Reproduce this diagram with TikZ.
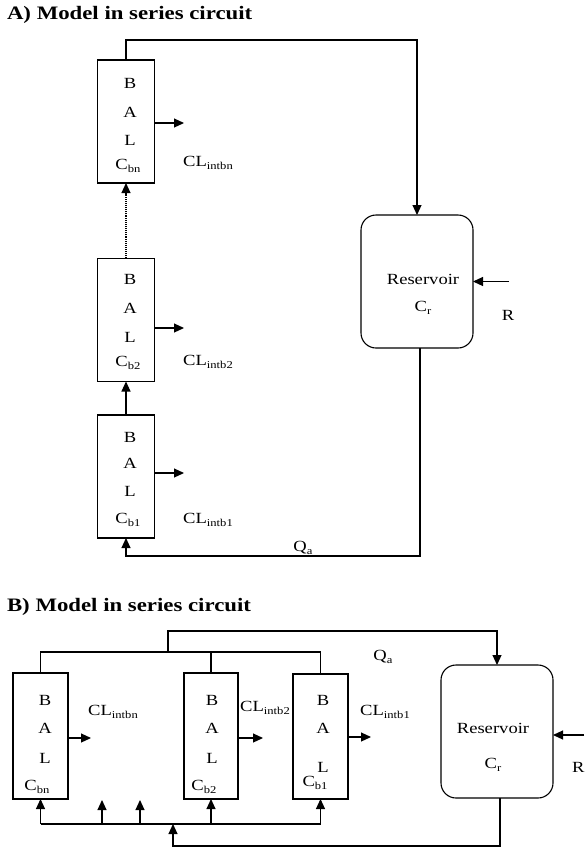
\documentclass[tikz,border=0pt]{standalone}
\usepackage{fontspec}
\setmainfont{Liberation Serif}[FakeStretch=1.2]
\usetikzlibrary{arrows.meta}
\newcommand\lsub[1]{\raisebox{-0.35ex}{\fontsize{10.5}{12}\selectfont #1}}
\begin{document}
\begin{tikzpicture}[x=1pt,y=-1pt,
  every node/.style={inner sep=0pt,outer sep=0pt},
  txt/.style={font=\fontsize{15.5}{18}\selectfont},
  ttl/.style={font=\fontsize{19}{22}\selectfont\bfseries,anchor=west},
  ball/.style={draw,line width=1.1pt,minimum width=57pt,minimum height=123pt},
  resv/.style={draw,line width=1.1pt,rounded corners=15pt,minimum width=112pt,minimum height=133pt},
  wire/.style={line width=1.1pt},
  arr/.style={line width=1.1pt,-{Triangle[length=10pt,width=9pt]}},
  dwire/.style={line width=1.1pt,densely dotted,-{Triangle[length=10pt,width=9pt]}}
]
\useasboundingbox (0,0) rectangle (584,849);
% ---------- A ----------
\node[ttl] (tA) at (7,15) {A) Model in series circuit};
\node[ball] (an) at (126,121.5) {};
\node[ball] (a2) at (126,320) {};
\node[ball] (a1) at (126,476.5) {};
\node[resv] (ra) at (417,281.5) {};
% texts in boxes
\node[txt] (an1) at (130,83) {B};
\node[txt] (an2) at (130,112) {A};
\node[txt] (an3) at (130,140) {L};
\node[txt] (an4) at (128,166) {C\lsub{bn}};
\node[txt] (a21) at (130,279) {B};
\node[txt] (a22) at (130,308) {A};
\node[txt] (a23) at (130,337) {L};
\node[txt] (a24) at (128,363) {C\lsub{b2}};
\node[txt] (a11) at (130,437) {B};
\node[txt] (a12) at (130,463) {A};
\node[txt] (a13) at (130,491) {L};
\node[txt] (a14) at (128,520) {C\lsub{b1}};
% outflow arrows
\coordinate (ane) at (184,123);
\coordinate (a2e) at (184,328);
\coordinate (a1e) at (184,473);
\draw[arr] (an.east |- ane) -- (ane);
\draw[arr] (a2.east |- a2e) -- (a2e);
\draw[arr] (a1.east |- a1e) -- (a1e);
\node[txt] (cln) at (208,163) {CL\lsub{intbn}};
\node[txt] (cl2) at (208,362) {CL\lsub{intb2}};
\node[txt] (cl1) at (208,520) {CL\lsub{intb1}};
% series connectors
\draw[arr] (a1.north) -- (a2.south);
\draw[dwire] (a2.north) -- (an.south);
% to reservoir
\coordinate (atop) at (126,40);
\draw[arr] (an.north) -- (atop) -| (ra.north);
% R inflow
\coordinate (aR) at (509,281.5);
\draw[arr] (aR) -- (ra.east);
\node[txt] (aRl) at (508,315) {R};
\node[txt] (ra1) at (423,279) {Reservoir};
\node[txt] (ra2) at (423,308) {C\lsub{r}};
% return
\coordinate (ab1) at (420,556);
\draw[arr] ([xshift=3pt]ra.south) -- (ab1) -| (a1.south);
\node[txt] (aq) at (303,548) {Q\lsub{a}};
% ---------- B ----------
\node[ttl] (tB) at (7,607) {B) Model in series circuit};
\node[ball,minimum width=55pt,minimum height=126pt] (bn) at (40.5,736) {};
\node[ball,minimum width=54pt,minimum height=126pt] (b2) at (211,736) {};
\node[ball,minimum width=55pt,minimum height=125pt] (b1) at (320.5,736.5) {};
\node[resv] (rb) at (497,731.5) {};
\node[txt] (bn1) at (45,700) {B};
\node[txt] (bn2) at (45,728) {A};
\node[txt] (bn3) at (45,758) {L};
\node[txt] (bn4) at (37,787) {C\lsub{bn}};
\node[txt] (b21) at (212,700) {B};
\node[txt] (b22) at (212,728) {A};
\node[txt] (b23) at (212,758) {L};
\node[txt] (b24) at (204,787) {C\lsub{b2}};
\node[txt] (b11) at (323,700) {B};
\node[txt] (b12) at (323,728) {A};
\node[txt] (b13) at (323,767) {L};
\node[txt] (b14) at (315,783) {C\lsub{b1}};
\coordinate (bne) at (91,738);
\coordinate (b2e) at (263,738);
\coordinate (b1e) at (371,737);
\draw[arr] (bn.east |- bne) -- (bne);
\draw[arr] (b2.east |- b2e) -- (b2e);
\draw[arr] (b1.east |- b1e) -- (b1e);
\node[txt] (bcln) at (113,712) {CL\lsub{intbn}};
\node[txt] (bcl2) at (265,708) {CL\lsub{intb2}};
\node[txt] (bcl1) at (385,712) {CL\lsub{intb1}};
% top bus
\coordinate (tbl) at (40.5,652);
\coordinate (tbr) at (320.5,652);
\coordinate (tbj) at (168,652);
\coordinate (tbu) at (168,631);
\draw[wire] (bn.north) -- (tbl) -- (tbr) -- (b1.north);
\draw[wire] (b2.north) -- (b2.north |- tbl);
\draw[arr] (tbj) -- (tbu) -| (rb.north);
\node[txt] (bq) at (383,657) {Q\lsub{a}};
% R inflow
\coordinate (bR) at (584,735);
\draw[arr] (bR) -- (rb.east |- bR);
\node[txt,anchor=west] (bRl) at (572,767) {R};
\node[txt] (rb1) at (493,728) {Reservoir};
\node[txt] (rb2) at (493,765) {C\lsub{r}};
% bottom bus
\coordinate (bbl) at (40.5,824);
\coordinate (bbr) at (320.5,824);
\draw[wire] (bbl) -- (bbr);
\draw[arr] (bbl) -- (bn.south);
\draw[arr] (b2.south |- bbl) -- (b2.south);
\draw[arr] (bbr) -- (b1.south);
\coordinate (fa1) at (102,824);
\coordinate (fa1t) at (102,800);
\coordinate (fa2) at (140,824);
\coordinate (fa2t) at (140,800);
\draw[arr] (fa1) -- (fa1t);
\draw[arr] (fa2) -- (fa2t);
% return
\coordinate (rbd) at (500,846);
\coordinate (rbj) at (173,824);
\draw[arr] ([xshift=3pt]rb.south) -- (rbd) -| (rbj);
\end{tikzpicture}
\end{document}
